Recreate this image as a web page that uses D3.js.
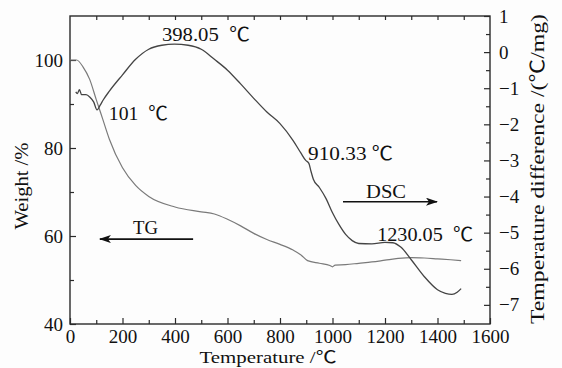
<!DOCTYPE html>
<html>
<head>
<meta charset="utf-8">
<script src="https://cdn.jsdelivr.net/npm/d3@7"></script>
<style>
  body { margin: 0; background: #fdfdfd; }
  svg { display: block; font-family: "Liberation Serif", "Noto Sans CJK SC", serif; }
  text { white-space: pre; }
</style>
</head>
<body>
<div id="chart"></div>
<script>
// TG curve (weight %)
const tgTemp = [0, 25, 50, 75, 100, 125, 150, 200, 250, 300, 400, 500, 550, 600, 650, 700, 750, 800, 850, 880, 905, 950, 990, 1000, 1010, 1050, 1100, 1150, 1200, 1250, 1300, 1350, 1400, 1450, 1490];
const tgWeight = [100, 100, 98.4, 95.6, 91, 86.5, 82, 75.5, 71.5, 69, 66.6, 65.5, 65, 63.8, 62.3, 60.6, 59.2, 58.1, 56.8, 55.7, 54.4, 53.8, 53.3, 53.0, 53.4, 53.5, 53.8, 54.1, 54.5, 54.9, 55.1, 55.0, 54.8, 54.6, 54.4];

// DSC curve (temperature difference)
const dscTemp = [22, 28, 36, 44, 61, 76, 90, 103, 115, 127, 150, 200, 250, 300, 350, 398, 450, 500, 550, 600, 650, 700, 750, 800, 850, 880, 898, 910, 918, 927, 950, 975, 1000, 1025, 1050, 1075, 1100, 1150, 1200, 1230, 1260, 1300, 1350, 1400, 1430, 1455, 1475, 1490];
const dscDiff = [-1.1, -1.15, -1.04, -1.18, -1.18, -1.25, -1.38, -1.6, -1.47, -1.32, -1.08, -0.63, -0.2, 0.08, 0.19, 0.22, 0.19, 0.08, -0.2, -0.5, -0.88, -1.28, -1.66, -1.98, -2.45, -2.8, -3.0, -3.08, -3.3, -3.52, -3.75, -4.05, -4.45, -4.78, -5.05, -5.22, -5.3, -5.31, -5.27, -5.28, -5.4, -5.75, -6.22, -6.58, -6.68, -6.71, -6.65, -6.55];

const xTicks = [0, 200, 400, 600, 800, 1000, 1200, 1400, 1600];
const weightTicks = [40, 60, 80, 100];
const diffTicks = [1, 0, -1, -2, -3, -4, -5, -6, -7];

const W = 562, H = 368;
const m = { left: 70, right: 490, top: 16, bottom: 324 };
const fs = 19;

const svg = d3.select("#chart").append("svg").attr("width", W).attr("height", H);

const x = d3.scaleLinear().domain([0, 1600]).range([m.left, m.right]);
const yW = d3.scaleLinear().domain([40, 110]).range([m.bottom, m.top]);
const yD = d3.scaleLinear().domain([-7.53, 1]).range([m.bottom, m.top]);

const axisColor = "#2a2a2a";

// frame
svg.append("rect")
  .attr("x", m.left).attr("y", m.top)
  .attr("width", m.right - m.left).attr("height", m.bottom - m.top)
  .attr("fill", "none").attr("stroke", axisColor).attr("stroke-width", 1.4);

// bottom axis
const gx = svg.append("g").attr("transform", "translate(0," + m.bottom + ")");
gx.call(d3.axisBottom(x).tickValues(xTicks).tickSize(-6).tickPadding(6).tickFormat(d3.format("d")));
gx.call(g => g.append("g").call(d3.axisBottom(x).tickValues(d3.range(100, 1600, 200)).tickSize(-4).tickFormat("")));

// top minor ticks
const gt = svg.append("g").attr("transform", "translate(0," + m.top + ")");
gt.call(d3.axisTop(x).tickValues(d3.range(100, 1600, 100)).tickSize(-4).tickFormat(""));

// left axis
const gl = svg.append("g").attr("transform", "translate(" + m.left + ",0)");
gl.call(d3.axisLeft(yW).tickValues(weightTicks).tickSize(-6).tickPadding(7));
gl.call(g => g.append("g").call(d3.axisLeft(yW).tickValues([50, 70, 90]).tickSize(-4).tickFormat("")));

// right axis
const gr = svg.append("g").attr("transform", "translate(" + m.right + ",0)");
gr.call(d3.axisRight(yD).tickValues(diffTicks).tickSize(-6).tickPadding(9)
  .tickFormat(d => d < 0 ? "\u2212" + Math.abs(d) : d));
gr.call(g => g.append("g").call(d3.axisRight(yD).tickValues(d3.range(0.5, -7.5, -1)).tickSize(-4).tickFormat("")));

svg.selectAll(".domain").attr("stroke", "none");
svg.selectAll(".tick line").attr("stroke", axisColor).attr("stroke-width", 1.2);
svg.selectAll(".tick text")
  .attr("font-family", "Liberation Serif, serif")
  .attr("font-size", fs).attr("fill", "#111");

// curves
const tgData = tgTemp.map((t, i) => [t, tgWeight[i]]);
const dscData = dscTemp.map((t, i) => [t, dscDiff[i]]);

svg.append("path").datum(tgData)
  .attr("fill", "none").attr("stroke", "#7a7a7a").attr("stroke-width", 1.2)
  .attr("d", d3.line().x(d => x(d[0])).y(d => yW(d[1])).curve(d3.curveMonotoneX));

svg.append("path").datum(dscData)
  .attr("fill", "none").attr("stroke", "#444").attr("stroke-width", 1.3)
  .attr("d", d3.line().x(d => x(d[0])).y(d => yD(d[1])).curve(d3.curveMonotoneX));

// arrows
const defs = svg.append("defs");
defs.append("marker").attr("id", "arrow")
  .attr("viewBox", "0 0 12 8").attr("refX", 11).attr("refY", 4)
  .attr("markerWidth", 12).attr("markerHeight", 8).attr("markerUnits", "userSpaceOnUse")
  .attr("orient", "auto")
  .append("path").attr("d", "M0,0 L12,4 L0,8 L3,4 Z").attr("fill", "#111");

function arrow(t1, t2, yv) {
  svg.append("line")
    .attr("x1", x(t1)).attr("x2", x(t2))
    .attr("y1", yW(yv)).attr("y2", yW(yv))
    .attr("stroke", "#111").attr("stroke-width", 1.6)
    .attr("marker-end", "url(#arrow)");
}
arrow(469, 114, 59.3);
arrow(1040, 1398, 67.8);

// annotations (tx, w give the anchor in data units; len is the text span)
const labels = [
  { t: "398.05  \u2103", tx: 350, w: 104.3, len: 88 },
  { t: "101  \u2103", tx: 148, w: 86.4, len: 59 },
  { t: "910.33 \u2103", tx: 907, w: 77.3, len: 85 },
  { t: "DSC", tx: 1128, w: 68.75, len: 40 },
  { t: "1230.05  \u2103", tx: 1170, w: 58.9, len: 96 },
  { t: "TG", tx: 240, w: 60.45, len: 25 }
];
svg.selectAll("text.ann").data(labels).enter().append("text")
  .attr("class", "ann")
  .attr("x", d => x(d.tx)).attr("y", d => yW(d.w))
  .attr("font-size", fs).attr("fill", "#111")
  .attr("textLength", d => d.len).attr("lengthAdjust", "spacingAndGlyphs")
  .text(d => d.t);

// axis titles
svg.append("text")
  .attr("transform", "translate(28,186) rotate(-90)")
  .attr("text-anchor", "middle").attr("font-size", fs).attr("fill", "#111")
  .attr("textLength", 87).attr("lengthAdjust", "spacingAndGlyphs")
  .text("Weight /%");

svg.append("text")
  .attr("x", 268).attr("y", 363)
  .attr("text-anchor", "middle").attr("font-size", 17).attr("fill", "#111")
  .attr("textLength", 137).attr("lengthAdjust", "spacingAndGlyphs")
  .text("Temperature /\u2103");

svg.append("text")
  .attr("transform", "translate(544,169) rotate(-90)")
  .attr("text-anchor", "middle").attr("font-size", fs).attr("fill", "#111")
  .attr("textLength", 310).attr("lengthAdjust", "spacingAndGlyphs")
  .text("Temperature difference /(\u2103/mg)");
</script>
</body>
</html>
